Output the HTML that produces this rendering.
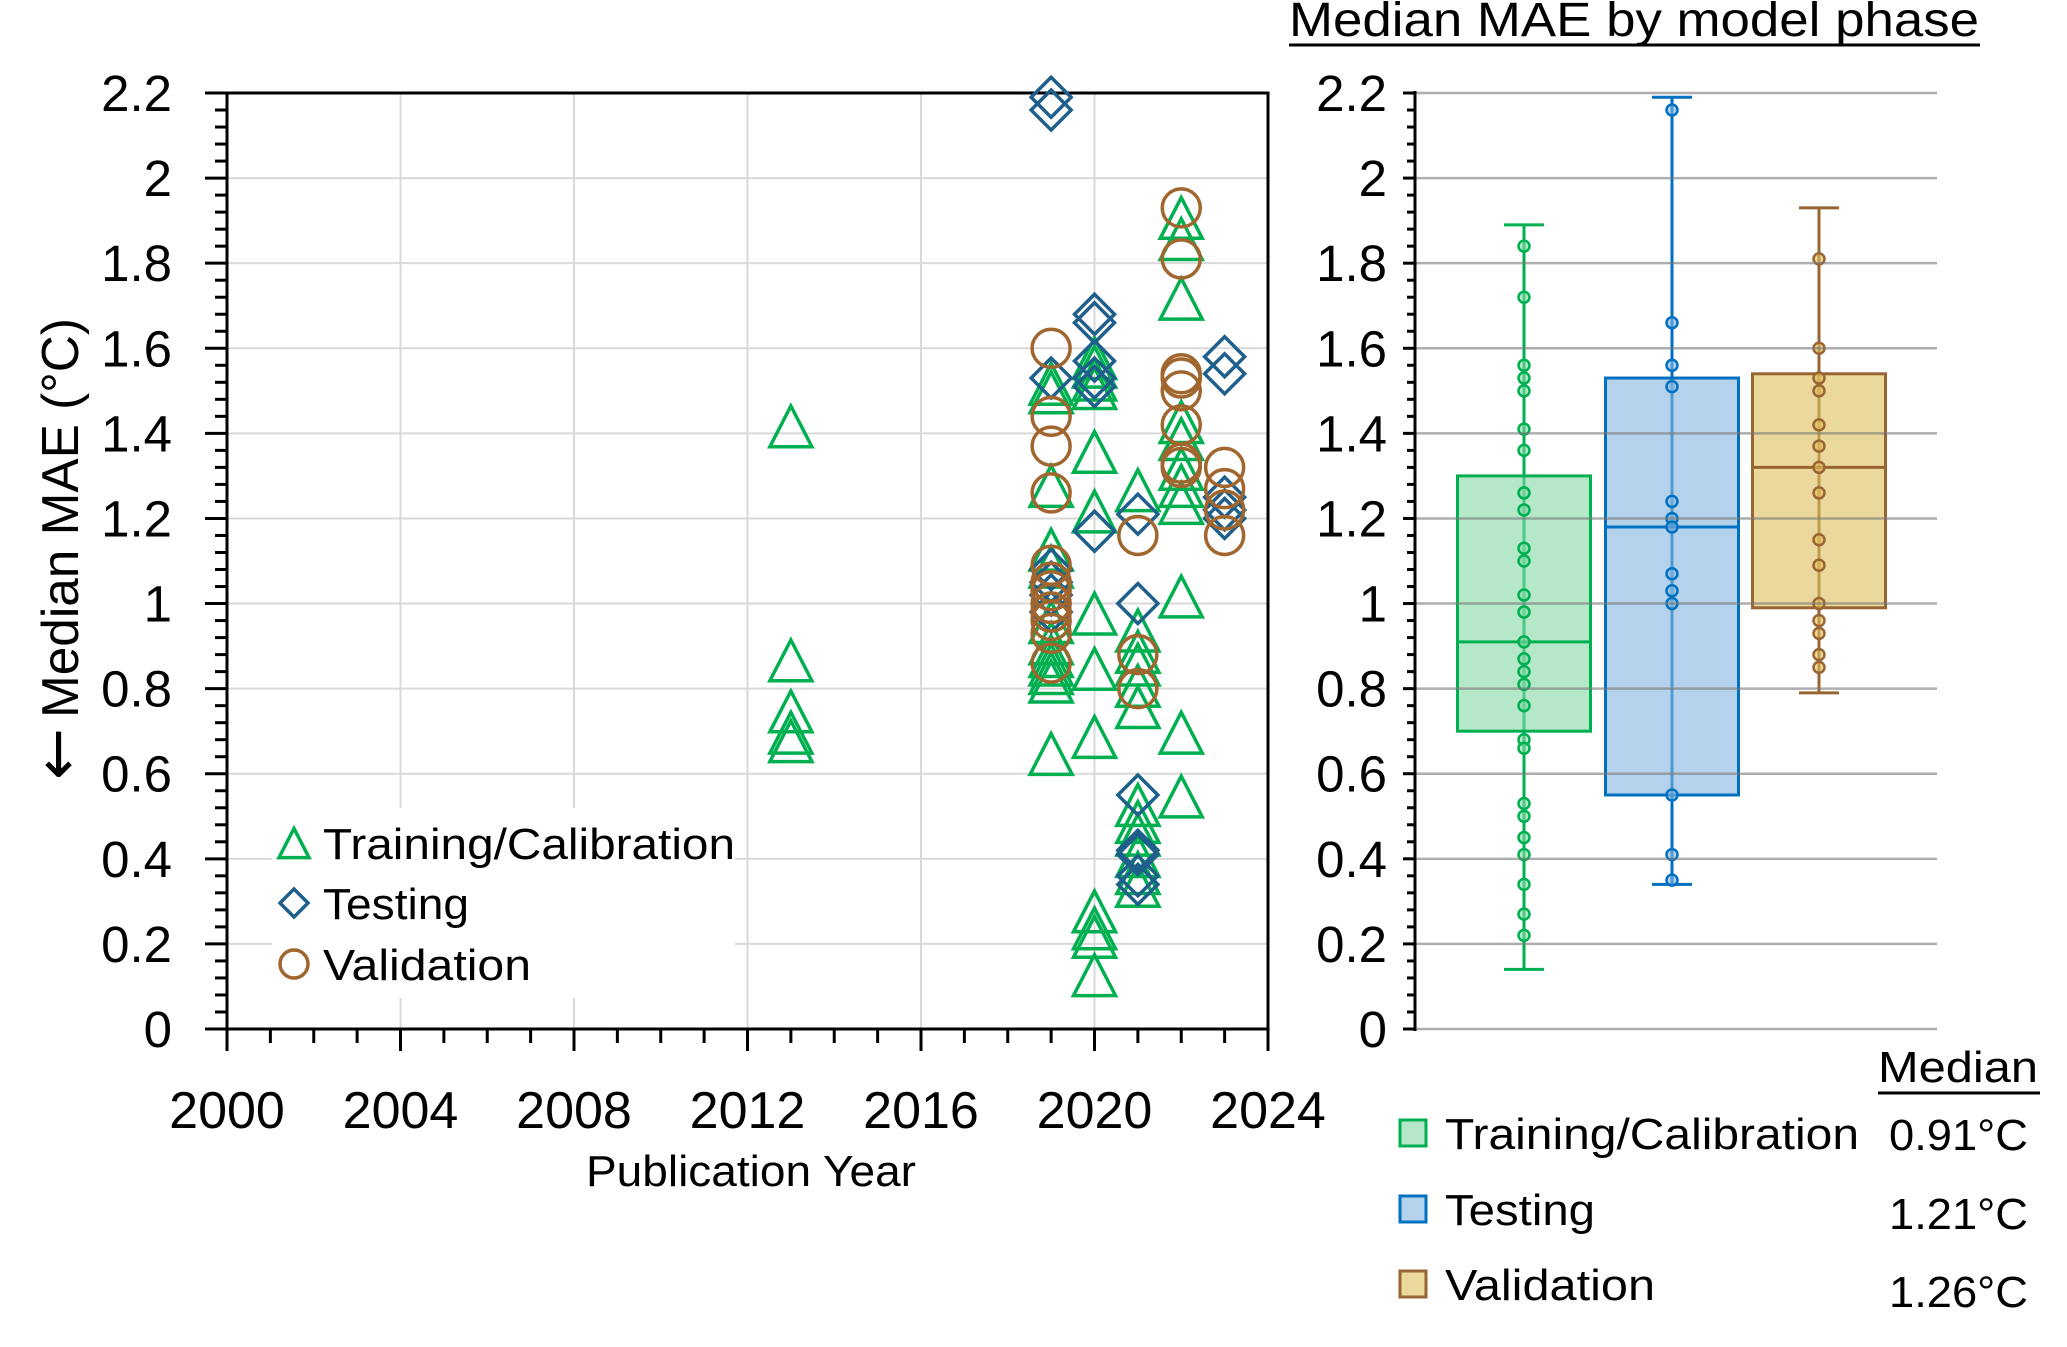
<!DOCTYPE html>
<html><head><meta charset="utf-8"><style>
html,body{margin:0;padding:0;background:#fff;}
svg{display:block;font-family:"Liberation Sans",sans-serif;}
</style></head><body>
<svg id="chart" width="2067" height="1347" viewBox="0 0 2067 1347" xmlns="http://www.w3.org/2000/svg">
<g id="left"></g>
<g id="right"></g>
</svg>
<script>
// ---- scatter data ----
const trainYears = [2013,2013,2013,2013,2013,
 2019,2019,2019,2019,2019,2019,2019,2019,2019,2019,2019,2019,
 2020,2020,2020,2020,2020,2020,2020,2020,2020,2020,2020,2020,2020,
 2021,2021,2021,2021,2021,2021,2021,2021,2021,2021,2021,2021,
 2022,2022,2022,2022,2022,2022,2022,2022,2022,2022,2022];
const trainValues = [1.41,0.86,0.74,0.69,0.67,
 1.51,1.49,1.27,1.12,1.08,0.95,0.90,0.87,0.85,0.83,0.81,0.64,
 1.57,1.55,1.52,1.50,1.35,1.21,0.97,0.84,0.68,0.27,0.23,0.21,0.12,
 1.26,0.93,0.88,0.85,0.80,0.75,0.52,0.48,0.45,0.40,0.36,0.33,
 1.90,1.85,1.71,1.42,1.38,1.31,1.27,1.23,1.01,0.69,0.54];
const testYears = [2019,2019,2019,2019,2019,2019,2019,
 2020,2020,2020,2020,2020,2020,
 2021,2021,2021,2021,2021,2021,2021,
 2023,2023,2023,2023,2023];
const testValues = [2.19,2.16,1.53,1.08,1.05,1.02,0.98,
 1.68,1.66,1.57,1.53,1.51,1.17,
 1.21,1.00,0.55,0.42,0.41,0.36,0.34,
 1.58,1.54,1.25,1.22,1.20];
const valYears = [2019,2019,2019,2019,2019,2019,2019,2019,2019,2019,2019,2019,
 2021,2021,2021,
 2022,2022,2022,2022,2022,2022,2022,2022,
 2023,2023,2023,2023];
const valValues = [1.60,1.44,1.37,1.26,1.09,1.05,1.03,1.00,0.98,0.96,0.93,0.86,
 1.16,0.88,0.80,
 1.93,1.81,1.54,1.53,1.50,1.42,1.33,1.32,
 1.32,1.27,1.22,1.16];
const xTicks = [2000,2004,2008,2012,2016,2020,2024];
const yTicks = [0,0.2,0.4,0.6,0.8,1,1.2,1.4,1.6,1.8,2,2.2];
// ---- box data ----
const phases = ["Training/Calibration","Testing","Validation"];
const boxMin = [0.14,0.34,0.79];
const boxQ1 = [0.70,0.55,0.99];
const boxMed = [0.91,1.18,1.32];
const boxQ3 = [1.30,1.53,1.54];
const boxMax = [1.89,2.19,1.93];
const trainPts = [1.84,1.72,1.56,1.53,1.50,1.41,1.36,1.26,1.22,1.13,1.10,1.02,0.98,0.91,0.87,0.84,0.81,0.76,0.68,0.66,0.53,0.50,0.45,0.41,0.34,0.27,0.22];
const testPts = [2.16,1.66,1.56,1.51,1.24,1.20,1.18,1.07,1.03,1.00,0.55,0.41,0.35];
const valPts = [1.81,1.60,1.53,1.50,1.42,1.37,1.32,1.26,1.15,1.09,1.00,0.96,0.93,0.88,0.85];
const medianLabels = ["0.91°C","1.21°C","1.26°C"];

const NS="http://www.w3.org/2000/svg";
function mk(parent,tag,attrs,text){const e=document.createElementNS(NS,tag);for(const k in attrs)e.setAttribute(k,attrs[k]);if(text!==undefined)e.textContent=text;parent.appendChild(e);return e;}

const yTop=93, yBot=1029;
const yS=v=>yBot-(v/2.2)*(yBot-yTop);
const xL0=227,xL1=1268;
const xS=yr=>xL0+(yr-2000)/24*(xL1-xL0);

const L=document.getElementById('left');
yTicks.forEach(v=>{if(v>0){const g=mk(L,'line',{x1:xL0,x2:xL1,y1:yS(v),y2:yS(v),stroke:'#d9d9d9','stroke-width':2});

}});
xTicks.forEach(t=>{if(t>2000&&t<2024){const g=mk(L,'line',{x1:xS(t),x2:xS(t),y1:yTop,y2:yBot,stroke:'#d9d9d9','stroke-width':2});

}});
const fr=mk(L,'rect',{x:xL0,y:yTop,width:xL1-xL0,height:yBot-yTop,fill:'none',stroke:'#000','stroke-width':3});


for(let i=0;i<=55;i++){const v=i*0.04;const maj=(i%5===0);const t=mk(L,'line',{x1:xL0-(maj?22:12),x2:xL0,y1:yS(v),y2:yS(v),stroke:'#000','stroke-width':3});

}
yTicks.forEach(v=>{const t=mk(L,'text',{x:172,y:yS(v)+18,'text-anchor':'end','font-size':51,fill:'#000'},String(v));

});
for(let yr=2000;yr<=2024;yr++){const maj=yr%4===0;const t=mk(L,'line',{x1:xS(yr),x2:xS(yr),y1:yBot,y2:yBot+(maj?22:14),stroke:'#000','stroke-width':3});

}
xTicks.forEach(t0=>{const t=mk(L,'text',{x:xS(t0),y:1128,'text-anchor':'middle','font-size':52,fill:'#000'},String(t0));

});
let at=mk(L,'text',{x:751,y:1186,'text-anchor':'middle','font-size':44,fill:'#000',textLength:330,lengthAdjust:'spacingAndGlyphs'},'Publication Year');


at=mk(L,'text',{x:0,y:0,'font-size':52,fill:'#000',transform:'translate(78,780) rotate(-90)'});
const arr=mk(at,'tspan',{'font-size':62,'font-family':'DejaVu Sans'},'←');
mk(at,'tspan',{dx:10,textLength:400,lengthAdjust:'spacingAndGlyphs'},'Median MAE (°C)');



const GREEN='#00b050',BLUE='#1f5f8b',BROWN='#a0662e';
function tri(g,cx,cy,s){return mk(g,'polygon',{points:`${cx},${cy-s*0.55} ${cx-s/2},${cy+s*0.42} ${cx+s/2},${cy+s*0.42}`,fill:'none',stroke:GREEN,'stroke-width':3.5});}
function dia(g,cx,cy,s){return mk(g,'polygon',{points:`${cx},${cy-s/2} ${cx+s/2},${cy} ${cx},${cy+s/2} ${cx-s/2},${cy}`,fill:'none',stroke:BLUE,'stroke-width':3.5});}
function circ(g,cx,cy,s){return mk(g,'circle',{cx:cx,cy:cy,r:s/2,fill:'none',stroke:BROWN,'stroke-width':3.5});}
const gT=mk(L,'g',{});
const gS=mk(L,'g',{});
const gV=mk(L,'g',{});
trainValues.forEach((v,i)=>{const m=tri(gT,xS(trainYears[i]),yS(v),42);

});
testValues.forEach((v,i)=>{const m=dia(gS,xS(testYears[i]),yS(v),40);

});
valValues.forEach((v,i)=>{const m=circ(gV,xS(valYears[i]),yS(v),38);

});
const lg=mk(L,'g',{});
mk(lg,'rect',{x:272,y:808,width:463,height:190,fill:'#fff'});
const lgNames=["Training/Calibration","Testing","Validation"];
const lgLen=[412,146,208];
const lgY=[843,903,964];
tri(lg,294,lgY[0]+2,30);dia(lg,294,lgY[1],28);circ(lg,294,lgY[2],28);
lgNames.forEach((n,i)=>{const t=mk(lg,'text',{x:323,y:lgY[i]+16,'font-size':44,fill:'#000',textLength:lgLen[i],lengthAdjust:'spacingAndGlyphs'},n);

});

// ---- right panel ----
const R=document.getElementById('right');
const xR0=1415,xR1=1937;
const centers=[1524,1672,1819];
const stroke=['#00b050','#0070c0','#996633'];
const fill=['rgba(130,216,165,0.6)','rgba(130,180,222,0.6)','rgba(222,190,90,0.6)'];
let tt=mk(R,'text',{x:1634,y:36,'text-anchor':'middle','font-size':48,fill:'#000',textLength:690,lengthAdjust:'spacingAndGlyphs'},'Median MAE by model phase');


mk(R,'line',{x1:1289,x2:1980,y1:45,y2:45,stroke:'#000','stroke-width':3});
const bx=mk(R,'g',{});
const ptsAll=[trainPts,testPts,valPts];
phases.forEach((p,i)=>{const c=centers[i],w=133;
 mk(bx,'line',{x1:c,x2:c,y1:yS(boxMax[i]),y2:yS(boxMin[i]),stroke:stroke[i],'stroke-width':3});
 mk(bx,'line',{x1:c-20,x2:c+20,y1:yS(boxMax[i]),y2:yS(boxMax[i]),stroke:stroke[i],'stroke-width':3});
 mk(bx,'line',{x1:c-20,x2:c+20,y1:yS(boxMin[i]),y2:yS(boxMin[i]),stroke:stroke[i],'stroke-width':3});
 const b=mk(bx,'rect',{x:c-w/2,y:yS(boxQ3[i]),width:w,height:yS(boxQ1[i])-yS(boxQ3[i]),fill:fill[i],stroke:stroke[i],'stroke-width':3});
 
 
 mk(bx,'line',{x1:c-w/2,x2:c+w/2,y1:yS(boxMed[i]),y2:yS(boxMed[i]),stroke:stroke[i],'stroke-width':3});
 ptsAll[i].forEach(v=>{const d=mk(bx,'circle',{cx:c,cy:yS(v),r:5.5,fill:fill[i],stroke:stroke[i],'stroke-width':2.5});
 
 });
});
yTicks.forEach(v=>{const g=mk(R,'line',{x1:xR0,x2:xR1,y1:yS(v),y2:yS(v),stroke:'rgba(120,120,120,0.6)','stroke-width':2.5});

});
mk(R,'line',{x1:xR0,x2:xR0,y1:yTop-2,y2:yBot+2,stroke:'#000','stroke-width':3});
for(let i=0;i<=55;i++){const v=i*0.04;const maj=(i%5===0);const t=mk(R,'line',{x1:xR0-(maj?12:8),x2:xR0,y1:yS(v),y2:yS(v),stroke:'#000','stroke-width':3});

}
yTicks.forEach(v=>{const t=mk(R,'text',{x:1387,y:yS(v)+18,'text-anchor':'end','font-size':51,fill:'#000'},String(v));

});
const rlY=[1134,1210,1285];
const rlLen=[414,150,210];
const rl=mk(R,'g',{});
phases.forEach((p,i)=>{
 const s=mk(rl,'rect',{x:1400,y:rlY[i]-14,width:26,height:26,fill:fill[i],stroke:stroke[i],'stroke-width':3});
 
 
 const t=mk(rl,'text',{x:1445,y:rlY[i]+15,'font-size':44,fill:'#000',textLength:rlLen[i],lengthAdjust:'spacingAndGlyphs'},p);
 
 
 const m=mk(rl,'text',{x:1889,y:rlY[i]+16+i*3,'font-size':44,fill:'#000',textLength:139,lengthAdjust:'spacingAndGlyphs'},medianLabels[i]);
 
 
});
let mh=mk(rl,'text',{x:1878,y:1082,'font-size':44,fill:'#000',textLength:160,lengthAdjust:'spacingAndGlyphs'},'Median');


mk(rl,'line',{x1:1878,x2:2040,y1:1093,y2:1093,stroke:'#000','stroke-width':3});
</script>
</body></html>
